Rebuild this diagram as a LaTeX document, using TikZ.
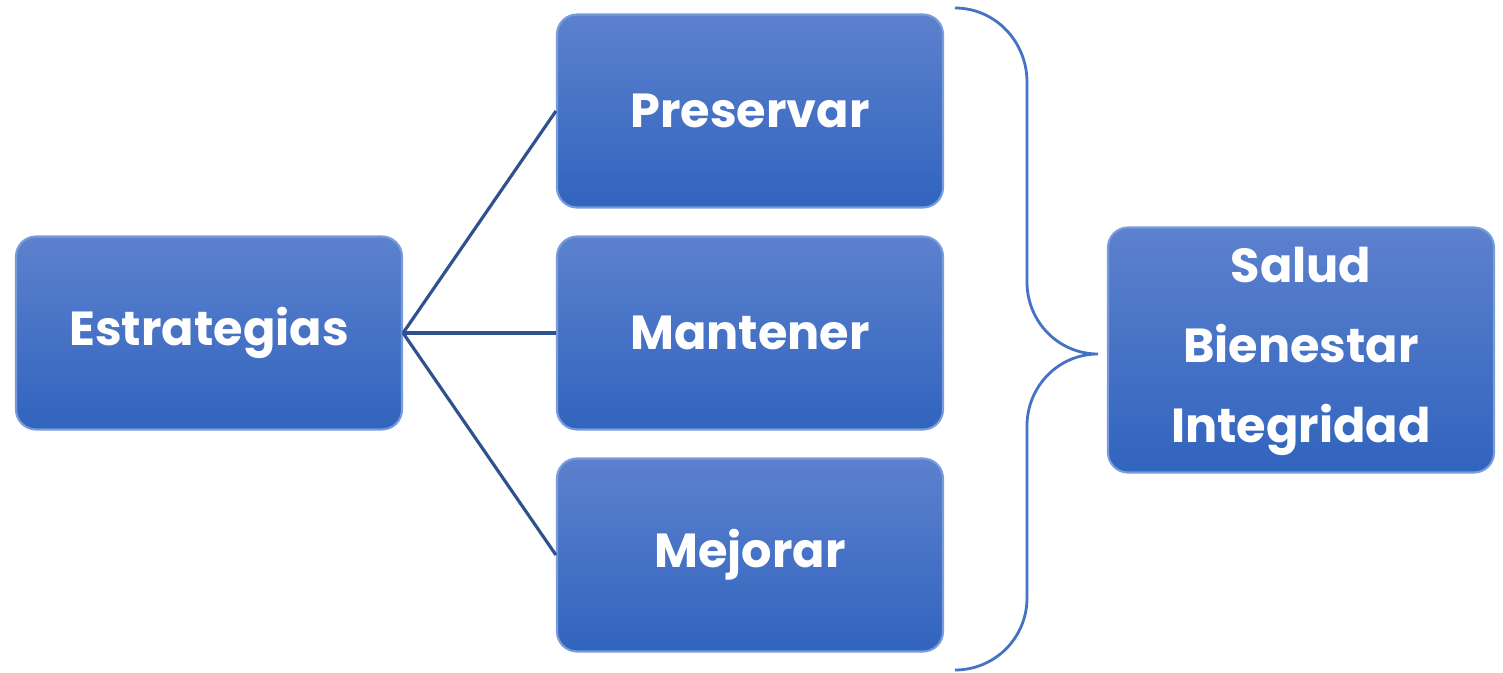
\documentclass[tikz,border=0pt]{standalone}
\usepackage{fontspec}
\setmainfont{Poppins}
\usepackage{tikz}

\definecolor{boxtop}{RGB}{92,129,205}
\definecolor{boxbot}{RGB}{49,100,190}
\definecolor{boxedge}{RGB}{120,155,220}
\definecolor{linkblue}{RGB}{47,82,143}
\definecolor{braceblue}{RGB}{68,114,196}

\tikzset{
  bluebox/.style={rounded corners=0.2cm, top color=boxtop, bottom color=boxbot,
    draw=boxedge, line width=0.6pt, minimum width=3.86cm, minimum height=1.93cm,
    text=white, font=\fontsize{13.6}{22.8}\selectfont\bfseries, align=center},
  link/.style={draw=linkblue, line width=0.9pt}
}

\begin{document}
\begin{tikzpicture}
    \useasboundingbox (0, 0) rectangle (15.03, 6.72);
    \begin{scope}
      \node[bluebox] (estrat) at (2.09, 3.39) {Estrategias};
      \node[bluebox] (preservar) at (7.50, 5.61) {Preservar};
      \node[bluebox] (mantener) at (7.50, 3.39) {Mantener};
      \node[bluebox] (mejorar) at (7.50, 1.17) {Mejorar};
      \node[bluebox, minimum height=2.45cm, text depth=0.1cm] (salud) at (13.01, 3.22) {Salud\\Bienestar\\Integridad};
    \end{scope}
    \draw[link] (estrat.east) -- (preservar.west);
    \draw[link] (estrat.east) -- (mantener.west);
    \draw[link] (estrat.east) -- (mejorar.west);
    % llave
    \coordinate (tip) at (10.98, 3.18);
    \draw[draw=braceblue, line width=0.8pt]
      (9.55, 6.64) to[out=0, in=90] (10.27, 5.90) -- (10.27, 3.90)
      to[out=-90, in=180] (tip)
      to[out=180, in=90] (10.27, 2.46) -- (10.27, 0.74)
      to[out=-90, in=0] (9.55, 0.02);
\end{tikzpicture}
\end{document}
